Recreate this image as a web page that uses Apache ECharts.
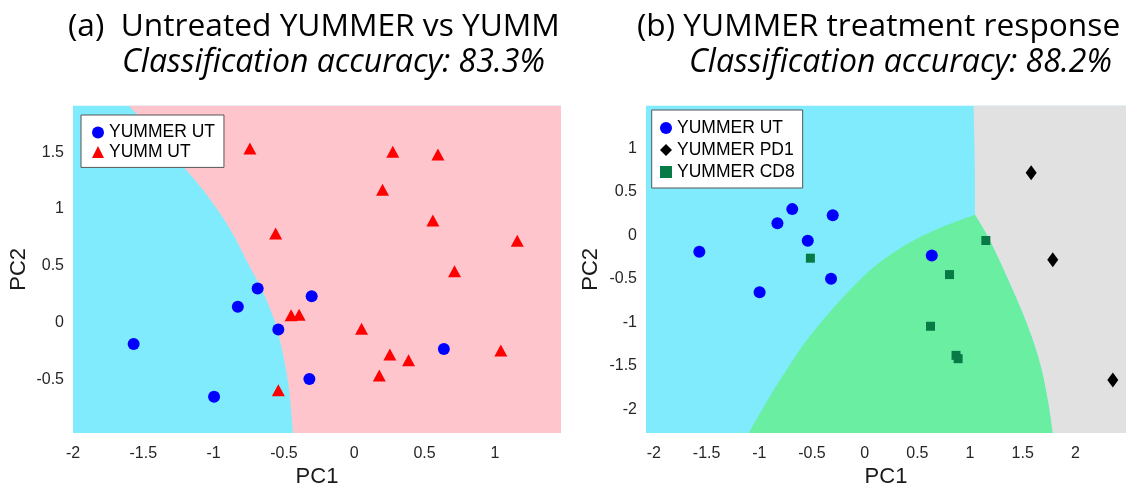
<!DOCTYPE html>
<html>
<head>
<meta charset="utf-8">
<script src="https://cdn.jsdelivr.net/npm/echarts@6.0.0/dist/echarts.min.js"></script>
<style>
  html, body { margin: 0; padding: 0; background: #ffffff; }
  #chart { width: 1129px; height: 493px; }
</style>
</head>
<body>
<div id="chart"></div>
<script>
// ---------------- data ----------------
const titleA = '(a)  Untreated YUMMER vs YUMM';
const accA = 'Classification accuracy: 83.3%';
const titleB = '(b) YUMMER treatment response';
const accB = 'Classification accuracy: 88.2%';

// axis limits
const limA = { xmin: -2, xmax: 1.47, ymin: -0.975, ymax: 1.912 };
const limB = { xmin: -2.075, xmax: 2.48, ymin: -2.27, ymax: 1.489 };

// YUMMER untreated (same samples in both panels)
const utX = [-1.569, -0.997, -0.828, -0.687, -0.540, -0.303, -0.319, 0.637];
const utY = [-0.190, -0.654, 0.138, 0.300, -0.063, 0.230, -0.499, -0.233];

// YUMM untreated
const yummX = [-0.742, -0.559, 0.274, 0.595, 0.201, 0.559, 1.159, 0.713, -0.449, -0.392, 0.052, 0.253, 0.386, 0.178, 1.042, -0.540];
const yummY = [1.533, 0.784, 1.504, 1.481, 1.170, 0.899, 0.720, 0.452, 0.063, 0.069, -0.055, -0.282, -0.334, -0.467, -0.248, -0.597];

// YUMMER PD1
const pd1X = [1.580, 1.785, 2.355];
const pd1Y = [0.717, -0.282, -1.660];

// YUMMER CD8
const cd8X = [-0.515, 1.150, 0.805, 0.625, 0.867, 0.887];
const cd8Y = [-0.263, -0.060, -0.451, -1.044, -1.378, -1.416];

// decision boundaries
const bndAX = [-1.603, -1.222, -1.031, -0.876, -0.755, -0.662, -0.588, -0.550, -0.496, -0.460, -0.436];
const bndAY = [1.912, 1.383, 1.095, 0.807, 0.519, 0.303, 0.086, -0.057, -0.346, -0.634, -0.975];

const bndCyanGrayX = [1.033, 1.045, 1.047];
const bndCyanGrayY = [1.489, 0.800, 0.236];
const bndGreenCyanX = [1.047, 0.717, 0.403, 0.088, -0.226, -0.541, -0.792, -0.981, -1.099];
const bndGreenCyanY = [0.236, 0.087, -0.101, -0.364, -0.739, -1.189, -1.640, -2.016, -2.270];
const bndGreenGrayX = [1.047, 1.189, 1.377, 1.535, 1.660, 1.739, 1.783];
const bndGreenGrayY = [0.236, -0.063, -0.552, -1.002, -1.453, -1.903, -2.270];

// ---------------- styles ----------------
const C_CYAN = '#80EBFC', C_PINK = '#FFC5CD', C_GREEN = '#69EEA2', C_GRAY = '#E1E1E1';
const C_BLUE = '#0000FF', C_RED = '#FF0000', C_BLACK = '#000000', C_DKGREEN = '#087A46';
const AXIS_FONT = "'Liberation Sans', Arial, Helvetica, sans-serif";
const TITLE_FONT = "'Open Sans', Lato, sans-serif";

function zip(xs, ys) { return xs.map((x, i) => [x, ys[i]]); }

// Catmull-Rom smoothing of a boundary drawn in pixel space
function smoothPath(px, seg) {
  const out = [];
  const n = px.length;
  for (let i = 0; i < n - 1; i++) {
    const p0 = px[Math.max(i - 1, 0)], p1 = px[i], p2 = px[i + 1], p3 = px[Math.min(i + 2, n - 1)];
    for (let s = 0; s < seg; s++) {
      const t = s / seg, t2 = t * t, t3 = t2 * t;
      const f = (a, b, c, d) => 0.5 * ((2 * b) + (-a + c) * t + (2 * a - 5 * b + 4 * c - d) * t2 + (-a + 3 * b - 3 * c + d) * t3);
      out.push([f(p0[0], p1[0], p2[0], p3[0]), f(p0[1], p1[1], p2[1], p3[1])]);
    }
  }
  out.push(px[n - 1]);
  return out;
}

function regionSeries(gridIdx, builder) {
  return {
    type: 'custom',
    xAxisIndex: gridIdx, yAxisIndex: gridIdx,
    silent: true, z: 0, clip: true,
    data: [[0, 0]],
    renderItem: function (params, api) {
      const c = p => api.coord(p);
      return { type: 'group', children: builder(c).map(p => ({
        type: 'polygon', shape: { points: p.pts }, style: { fill: p.color, stroke: null }
      })) };
    }
  };
}

const bA = zip(bndAX, bndAY);
const cg = zip(bndCyanGrayX, bndCyanGrayY);
const gc = zip(bndGreenCyanX, bndGreenCyanY);
const gg = zip(bndGreenGrayX, bndGreenGrayY);

function buildA(c) {
  const rect = [[limA.xmin, limA.ymax], [limA.xmax, limA.ymax], [limA.xmax, limA.ymin], [limA.xmin, limA.ymin]].map(c);
  const b = smoothPath(bA.map(c), 10);
  const pink = [c([limA.xmax, limA.ymax]), c([limA.xmax, limA.ymin])].concat(b.slice().reverse());
  return [{ pts: rect, color: C_CYAN }, { pts: pink, color: C_PINK }];
}
function buildB(c) {
  const rect = [[limB.xmin, limB.ymax], [limB.xmax, limB.ymax], [limB.xmax, limB.ymin], [limB.xmin, limB.ymin]].map(c);
  const sCG = smoothPath(cg.map(c), 10);
  const sGC = smoothPath(gc.map(c), 10);
  const sGG = smoothPath(gg.map(c), 10);
  const gray = sCG.concat(sGG.slice(1)).concat([c([limB.xmax, limB.ymin]), c([limB.xmax, limB.ymax])]);
  const green = sGC.concat(sGG.slice().reverse());
  return [{ pts: rect, color: C_CYAN }, { pts: gray, color: C_GRAY }, { pts: green, color: C_GREEN }];
}

function tickFmt(v) {
  if (Math.abs(v * 2 - Math.round(v * 2)) > 1e-6) return '';
  return String(Math.round(v * 10) / 10);
}

function xAxisCfg(grid, lim, split) {
  return {
    type: 'value', gridIndex: grid, min: lim.xmin, max: lim.xmax, splitNumber: split,
    axisLine: { show: false }, axisTick: { show: false }, splitLine: { show: false },
    axisLabel: { formatter: tickFmt, color: '#262626', fontSize: 16, fontFamily: AXIS_FONT, margin: 12 },
    name: 'PC1', nameLocation: 'middle', nameGap: 31,
    nameTextStyle: { fontSize: 22, color: '#1a1a1a', fontFamily: AXIS_FONT }
  };
}
function yAxisCfg(grid, lim, split, gap) {
  return {
    type: 'value', gridIndex: grid, min: lim.ymin, max: lim.ymax, splitNumber: split,
    axisLine: { show: false }, axisTick: { show: false }, splitLine: { show: false },
    axisLabel: { formatter: tickFmt, color: '#262626', fontSize: 16, fontFamily: AXIS_FONT, margin: 9 },
    name: 'PC2', nameLocation: 'middle', nameGap: gap,
    nameTextStyle: { fontSize: 22, color: '#1a1a1a', fontFamily: AXIS_FONT }
  };
}

const titleStyle = { fontFamily: TITLE_FONT, fontSize: 31.7, fontWeight: 'normal', color: '#000', lineHeight: 31.7 };
const accStyle = { fontFamily: TITLE_FONT, fontSize: 32, fontWeight: 'normal', fontStyle: 'italic', color: '#000', lineHeight: 32 };

const legendText = { fontFamily: AXIS_FONT, fontSize: 17.5, color: '#000' };

const option = {
  animation: false,
  backgroundColor: '#ffffff',
  title: [
    { text: titleA, left: 68, top: 11, padding: 0, textStyle: titleStyle },
    { text: accA, left: 122, top: 46.6, padding: 0, textStyle: accStyle },
    { text: titleB, left: 637, top: 11, padding: 0, textStyle: titleStyle },
    { text: accB, left: 689, top: 46.6, padding: 0, textStyle: accStyle }
  ],
  grid: [
    { left: 73, top: 105.5, width: 488, height: 334 },
    { left: 646, top: 105.5, width: 483, height: 334 }
  ],
  xAxis: [xAxisCfg(0, limA, 7), xAxisCfg(1, limB, 9)],
  yAxis: [yAxisCfg(0, limA, 6, 43), yAxisCfg(1, limB, 7, 44)],
  legend: [
    {
      data: [{ name: 'YUMMER UT', icon: 'circle' }, { name: 'YUMM UT', icon: 'triangle' }],
      orient: 'vertical', left: 81, top: 115,
      itemWidth: 12, itemHeight: 12, itemGap: 1.4, itemTextGap: 9,
      padding: [8.5, 9, 6.5, 11], backgroundColor: '#fff', borderColor: '#555', borderWidth: 1, borderRadius: 0,
      textStyle: legendText, selectedMode: false
    },
    {
      data: [{ name: 'YUMMER UT', icon: 'circle' }, { name: 'YUMMER PD1', icon: 'diamond' }, { name: 'YUMMER CD8', icon: 'rect' }],
      orient: 'vertical', left: 651.7, top: 110,
      itemWidth: 12, itemHeight: 12, itemGap: 4, itemTextGap: 16,
      padding: [9, 8, 7, 8.3], backgroundColor: '#fff', borderColor: '#555', borderWidth: 1, borderRadius: 0,
      textStyle: legendText, selectedMode: false
    }
  ],
  series: [
    regionSeries(0, buildA),
    regionSeries(1, buildB),
    { name: 'YUMMER UT', type: 'scatter', xAxisIndex: 0, yAxisIndex: 0, data: zip(utX, utY),
      symbol: 'circle', symbolSize: 12, itemStyle: { color: C_BLUE, opacity: 1 }, z: 3 },
    { name: 'YUMM UT', type: 'scatter', xAxisIndex: 0, yAxisIndex: 0, data: zip(yummX, yummY),
      symbol: 'triangle', symbolSize: [13, 12], itemStyle: { color: C_RED, opacity: 1 }, z: 3 },
    { name: 'YUMMER UT', type: 'scatter', xAxisIndex: 1, yAxisIndex: 1, data: zip(utX, utY),
      symbol: 'circle', symbolSize: 12, itemStyle: { color: C_BLUE, opacity: 1 }, z: 3 },
    { name: 'YUMMER PD1', type: 'scatter', xAxisIndex: 1, yAxisIndex: 1, data: zip(pd1X, pd1Y),
      symbol: 'diamond', symbolSize: [11, 15], itemStyle: { color: C_BLACK, opacity: 1 }, z: 3 },
    { name: 'YUMMER CD8', type: 'scatter', xAxisIndex: 1, yAxisIndex: 1, data: zip(cd8X, cd8Y),
      symbol: 'rect', symbolSize: 9, itemStyle: { color: C_DKGREEN, opacity: 1 }, z: 3 }
  ]
};

const chart = echarts.init(document.getElementById('chart'), null, { renderer: 'canvas' });
chart.setOption(option);
</script>
</body>
</html>
